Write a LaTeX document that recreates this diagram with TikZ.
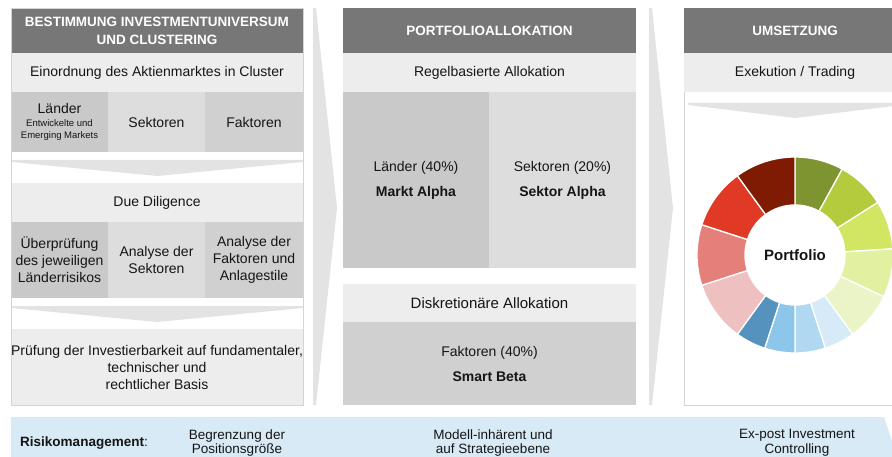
\documentclass[tikz,border=0pt]{standalone}
\usepackage{fontspec}
\setmainfont{Liberation Sans}
\usetikzlibrary{positioning}

\definecolor{headgray}{HTML}{777777}
\definecolor{rowgray}{HTML}{EDEDED}
\definecolor{cellA}{HTML}{C9C9C9}
\definecolor{cellB}{HTML}{DDDDDD}
\definecolor{cellC}{HTML}{D0D0D0}
\definecolor{chevgray}{HTML}{E3E3E3}
\definecolor{boxline}{HTML}{D4D4D4}
\definecolor{riskblue}{HTML}{D7EAF6}
\definecolor{txt}{HTML}{151515}
\definecolor{gA}{HTML}{7E9430}
\definecolor{gB}{HTML}{B3CB3C}
\definecolor{gC}{HTML}{D2E664}
\definecolor{gD}{HTML}{E2F0A2}
\definecolor{gE}{HTML}{EBF4C6}
\definecolor{bA}{HTML}{D6EAF7}
\definecolor{bB}{HTML}{B0D9F1}
\definecolor{bC}{HTML}{8CC6EA}
\definecolor{bD}{HTML}{5592BE}
\definecolor{rA}{HTML}{EFC0C0}
\definecolor{rB}{HTML}{E47F7A}
\definecolor{rC}{HTML}{E03A27}
\definecolor{rD}{HTML}{7F1A03}

\newcommand{\kleinzeile}{\fontsize{9.5}{11.5}\selectfont}

\begin{document}
\begin{tikzpicture}[x=1pt,y=-1pt,
  base/.style={rectangle,inner sep=0pt,outer sep=0pt,align=center,text=txt,font=\fontsize{14}{17}\selectfont},
  head/.style={base,fill=headgray,text=white,minimum height=45pt,font=\fontsize{13.5}{18}\selectfont\bfseries},
  row/.style={base,fill=rowgray,minimum height=39pt},
  dark cell/.style={base,fill=cellA},
  light cell/.style={base,fill=cellB},
  mid cell/.style={base,fill=cellC},
  band text/.style={base,font=\fontsize{13.5}{14.5}\selectfont},
  chev/.style={fill=chevgray}]
\useasboundingbox (0,0) rectangle (892,457);
\clip (0,0) rectangle (892,457);

\fill[chev] (313,8) -- (316,8) -- (337,208) -- (316,405) -- (313,405) -- cycle;
\fill[chev] (649,8) -- (652,8) -- (673,208) -- (652,405) -- (649,405) -- cycle;

\node[head,minimum width=292pt,anchor=north west] (kopfA) at (11,8) {BESTIMMUNG INVESTMENTUNIVERSUM\\UND CLUSTERING};
\node[row,minimum width=292pt,below=0pt of kopfA] (einord) {Einordnung des Aktienmarktes in Cluster};
\node[dark cell,minimum width=97pt,minimum height=60pt,anchor=north west] (laender) at (einord.south west)
  {L\"ander\\[-4pt]\kleinzeile Entwickelte und\\[-5pt]\kleinzeile Emerging Markets};
\node[light cell,minimum width=97pt,minimum height=60pt,right=0pt of laender] (sektoren) {Sektoren};
\node[mid cell,minimum width=98pt,minimum height=60pt,right=0pt of sektoren] (faktoren) {Faktoren};
\fill[chev] (11,160) -- (303,160) -- (303,162) -- (157,176) -- (11,162) -- cycle;
\node[row,minimum width=292pt,anchor=north west] (due) at (11,183) {Due Diligence};
\node[dark cell,minimum width=97pt,minimum height=76pt,anchor=north west] (pruefA) at (due.south west) {\"Uberpr\"ufung\\des jeweiligen\\L\"anderrisikos};
\node[light cell,minimum width=97pt,minimum height=76pt,right=0pt of pruefA] (pruefB) {Analyse der\\Sektoren};
\node[mid cell,minimum width=98pt,minimum height=76pt,right=0pt of pruefB] (pruefC) {Analyse der\\Faktoren und\\Anlagestile};
\fill[chev] (11,306) -- (303,306) -- (303,308) -- (157,322) -- (11,308) -- cycle;
\node[row,minimum width=292pt,minimum height=76pt,anchor=north west] (basis) at (11,329)
  {Pr\"ufung der Investierbarkeit auf fundamentaler,\\technischer und\\rechtlicher Basis};
\draw[boxline,line width=0.8pt] (kopfA.north west) rectangle (basis.south east);

\node[head,minimum width=293pt,anchor=north west] (kopfB) at (343,8) {PORTFOLIOALLOKATION};
\node[row,minimum width=293pt,below=0pt of kopfB] (regel) {Regelbasierte Allokation};
\node[dark cell,minimum width=146pt,minimum height=176pt,anchor=north west] (markt) at (regel.south west)
  {L\"ander (40\%)\\[8pt]\textbf{Markt Alpha}};
\node[light cell,minimum width=147pt,minimum height=176pt,right=0pt of markt] (sektor)
  {Sektoren (20\%)\\[8pt]\textbf{Sektor Alpha}};
\node[row,minimum width=293pt,minimum height=38pt,anchor=north west,font=\fontsize{15}{17}\selectfont] (diskret) at (343,284) {Diskretion\"are Allokation};
\node[mid cell,minimum width=293pt,minimum height=83pt,below=0pt of diskret] (smart)
  {Faktoren (40\%)\\[8pt]\textbf{Smart Beta}};

\node[head,minimum width=222pt,anchor=north west] (kopfC) at (684,8) {UMSETZUNG};
\node[row,minimum width=222pt,below=0pt of kopfC] (exek) {Exekution / Trading};
\node[base,minimum width=222pt,minimum height=313pt,anchor=north west] (umsetz) at (exek.south west) {};
\draw[boxline,line width=0.8pt] (exek.south west) -- (umsetz.south west) -- (umsetz.south east);
\fill[chev] (688,103) -- (902,103) -- (902,105) -- (795,118) -- (688,105) -- cycle;

\begin{scope}[shift={(795,255)}]
\foreach \a/\b/\c in {-90/-61.2/gA,-61.2/-32.4/gB,-32.4/-3.6/gC,-3.6/25.2/gD,25.2/54/gE,
                      54/72/bA,72/90/bB,90/108/bC,108/126/bD,
                      126/162/rA,162/198/rB,198/234/rC,234/270/rD}
  \filldraw[fill=\c,draw=white,line width=1.3pt] (\a:98) arc[start angle=\a,end angle=\b,radius=98]
    -- (\b:50) arc[start angle=\b,end angle=\a,radius=50] -- cycle;
\end{scope}
\node[base,font=\fontsize{15}{17}\selectfont\bfseries] (portfolio) at (795,255) {Portfolio};

\fill[riskblue] (11,417) -- (884,417) -- (900,465) -- (11,465) -- cycle;
\node[band text] (risiko) at (84,443) {\textbf{Risikomanagement}:};
\node[band text] (grenze) at (237,443) {Begrenzung der\\Positionsgr\"o\ss e};
\node[band text] (modell) at (493,443) {Modell-inh\"arent und\\auf Strategieebene};
\node[band text] (expost) at (797,443) {Ex-post Investment\\Controlling};
\end{tikzpicture}
\end{document}
